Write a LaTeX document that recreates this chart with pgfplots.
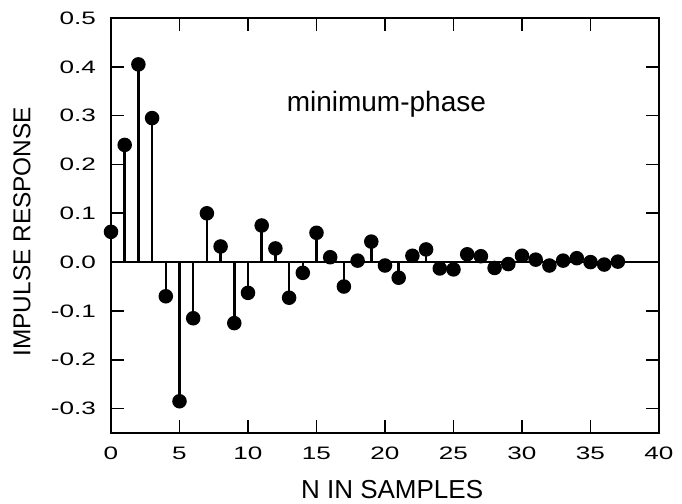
\documentclass[border=0pt]{standalone}
\usepackage{pgfplots}
\pgfplotsset{compat=1.18}
\usepackage{fontspec}
\setmainfont{Liberation Sans}
\newfontfamily\tickfont[FakeStretch=1.45]{Liberation Sans}
\begin{document}
\begin{tikzpicture}
\begin{axis}[
  scale only axis,
  width=274pt, height=207.5pt,
  xmin=0, xmax=40, ymin=-0.35, ymax=0.5,
  xtick={0,5,...,40},
  ytick={-0.3,-0.2,-0.1,0,0.1,0.2,0.3,0.4,0.5},
  yticklabels={-0.3,-0.2,-0.1,0.0,0.1,0.2,0.3,0.4,0.5},
  xticklabels={0,5,10,15,20,25,30,35,40},
  tick align=inside,
  tick pos=both,
  major tick length=6.5pt,
  axis line style={line width=1pt},
  every tick/.style={line width=0.8pt, black},
  ticklabel style={font=\tickfont\fontsize{9}{11}\selectfont},
  xticklabel style={anchor=north, yshift=-3.5pt},
  yticklabel style={anchor=east, xshift=-4pt},
  xlabel={N IN SAMPLES},
  ylabel={IMPULSE RESPONSE},
  xlabel style={font=\fontsize{13}{15}\selectfont, at={(axis description cs:0.513,-0.159)}, anchor=base},
  ylabel style={font=\fontsize{12.2}{14}\selectfont, at={(axis description cs:-0.1624,0.485)}, anchor=center},
  clip=false,
]
\addplot[black, line width=1pt, no marks] coordinates {(0,0) (40,0)};
\addplot+[ycomb, black, line width=1.25pt, mark=*, mark size=3pt, mark options={fill=black}] coordinates {
(0,0.062) (1,0.240) (2,0.405) (3,0.295) (4,-0.070) (5,-0.285) (6,-0.115) (7,0.100)
(8,0.032) (9,-0.125) (10,-0.063) (11,0.075) (12,0.028) (13,-0.073) (14,-0.022) (15,0.060)
(16,0.010) (17,-0.050) (18,0.003) (19,0.042) (20,-0.007) (21,-0.032) (22,0.013) (23,0.026)
(24,-0.013) (25,-0.015) (26,0.016) (27,0.012) (28,-0.012) (29,-0.004) (30,0.013) (31,0.005)
(32,-0.007) (33,0.003) (34,0.008) (35,0.000) (36,-0.005) (37,0.001)
};
\node[font=\fontsize{14}{16}\selectfont, anchor=base] at (axis cs:20.1,0.308) {minimum-phase};
\end{axis}
\pgfresetboundingbox
\path ([xshift=-55.5pt,yshift=-35.5pt]current axis.south west) rectangle ([xshift=11.5pt,yshift=9pt]current axis.north east);
\end{tikzpicture}
\end{document}
